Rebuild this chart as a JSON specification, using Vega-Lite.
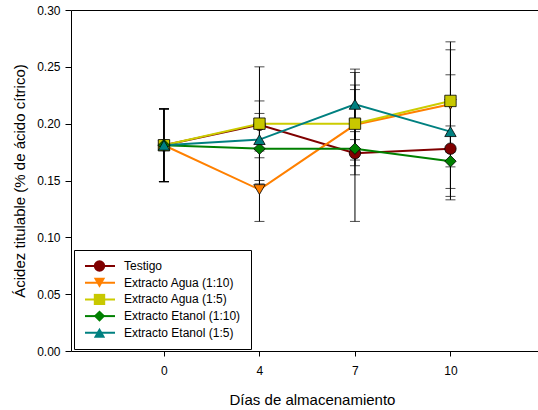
{
  "$schema": "https://vega.github.io/schema/vega-lite/v6.json",
  "width": 467,
  "height": 341,
  "autosize": {"type": "none"},
  "padding": {"left": 71, "top": 10, "right": 0, "bottom": 59},
  "background": "white",
  "config": {
    "font": "Liberation Sans",
    "view": {"stroke": null},
    "axis": {
      "labelFontSize": 12, "titleFontSize": 15, "titleFontWeight": "normal",
      "labelColor": "black", "titleColor": "black", "domainColor": "black",
      "tickColor": "black", "grid": false, "labelFont": "Liberation Sans", "titleFont": "Liberation Sans"
    },
    "legend": {"labelFont": "Liberation Sans", "labelColor": "black"}
  },
  "data": {
    "values": [
      {"dia": 0, "serie": "Testigo", "media": 0.181, "de": 0.032},
      {"dia": 4, "serie": "Testigo", "media": 0.199, "de": 0.021},
      {"dia": 7, "serie": "Testigo", "media": 0.174, "de": 0.060},
      {"dia": 10, "serie": "Testigo", "media": 0.178, "de": 0.045},
      {"dia": 0, "serie": "Extracto Agua (1:10)", "media": 0.181, "de": 0.032},
      {"dia": 4, "serie": "Extracto Agua (1:10)", "media": 0.142, "de": 0.028},
      {"dia": 7, "serie": "Extracto Agua (1:10)", "media": 0.199, "de": 0.031},
      {"dia": 10, "serie": "Extracto Agua (1:10)", "media": 0.217, "de": 0.055},
      {"dia": 0, "serie": "Extracto Agua (1:5)", "media": 0.181, "de": 0.032},
      {"dia": 4, "serie": "Extracto Agua (1:5)", "media": 0.200, "de": 0.050},
      {"dia": 7, "serie": "Extracto Agua (1:5)", "media": 0.200, "de": 0.045},
      {"dia": 10, "serie": "Extracto Agua (1:5)", "media": 0.220, "de": 0.045},
      {"dia": 0, "serie": "Extracto Etanol (1:10)", "media": 0.181, "de": 0.032},
      {"dia": 4, "serie": "Extracto Etanol (1:10)", "media": 0.178, "de": 0.031},
      {"dia": 7, "serie": "Extracto Etanol (1:10)", "media": 0.178, "de": 0.015},
      {"dia": 10, "serie": "Extracto Etanol (1:10)", "media": 0.167, "de": 0.031},
      {"dia": 0, "serie": "Extracto Etanol (1:5)", "media": 0.181, "de": 0.032},
      {"dia": 4, "serie": "Extracto Etanol (1:5)", "media": 0.186, "de": 0.010},
      {"dia": 7, "serie": "Extracto Etanol (1:5)", "media": 0.217, "de": 0.031},
      {"dia": 10, "serie": "Extracto Etanol (1:5)", "media": 0.193, "de": 0.050}
    ]
  },
  "layer": [
    {
      "mark": {"type": "line", "strokeWidth": 2},
      "encoding": {
        "x": {
          "field": "dia", "type": "ordinal",
          "scale": {"type": "point", "domain": [0, 4, 7, 10], "padding": 0.945, "align": 0.515},
          "axis": {"orient": "bottom", "title": "Días de almacenamiento", "labelAngle": 0, "tickSize": 5, "labelPadding": 9, "titlePadding": 16, "titleX": 241, "domainColor": "black"}
        },
        "y": {
          "field": "media", "type": "quantitative",
          "title": "Ácidez titulable (% de ácido cítrico)",
          "scale": {"domain": [0, 0.3], "nice": false, "zero": true},
          "axis": {"orient": "left", "title": "Ácidez titulable (% de ácido cítrico)", "values": [0, 0.05, 0.1, 0.15, 0.2, 0.25, 0.3], "format": ".2f", "tickSize": 6, "labelPadding": 5, "titlePadding": 9}
        },
        "stroke": {
          "field": "serie", "type": "nominal",
          "sort": null,
          "scale": {"range": ["#800000", "#FF8000", "#CCCC00", "#008000", "#008080"]},
          "legend": {
            "orient": "none", "legendX": 3, "legendY": 240, "title": null,
            "symbolType": "stroke", "symbolSize": 900, "symbolStrokeWidth": 2,
            "clipHeight": 12, "rowPadding": 4.7, "padding": 10,
            "labelFontSize": 12, "labelOffset": 8, "labelLimit": 300,
            "strokeColor": "black", "fillColor": "white", "zindex": 1
          }
        }
      }
    },
    {
      "mark": {"type": "errorbar", "ticks": {"size": 10, "thickness": 1, "color": "black"}, "rule": {"color": "black", "strokeWidth": 1}},
      "encoding": {
        "x": {"field": "dia", "type": "ordinal", "axis": null},
        "y": {"field": "media", "type": "quantitative", "title": "Ácidez titulable (% de ácido cítrico)"},
        "yError": {"field": "de"}
      }
    },
    {
      "mark": {"type": "point", "filled": true, "opacity": 1, "stroke": "black", "strokeWidth": 0.8, "size": 130},
      "encoding": {
        "x": {"field": "dia", "type": "ordinal", "axis": {"orient": "top", "labels": false, "ticks": false, "title": null, "domainColor": "black"}},
        "y": {"field": "media", "type": "quantitative", "title": "Ácidez titulable (% de ácido cítrico)"},
        "fill": {
          "field": "serie", "type": "nominal",
          "scale": {
            "domain": ["Testigo", "Extracto Agua (1:10)", "Extracto Agua (1:5)", "Extracto Etanol (1:10)", "Extracto Etanol (1:5)"],
            "range": ["#800000", "#FF8000", "#C8C800", "#008000", "#008080"]
          },
          "legend": {
            "orient": "none", "legendX": 12, "legendY": 240, "title": null,
            "symbolSize": 130, "symbolStrokeColor": "black", "symbolStrokeWidth": 0.8, "symbolOpacity": 1,
            "clipHeight": 12, "rowPadding": 4.7, "padding": 10,
            "labelFontSize": 12, "labelOffset": 8, "labelExpr": "''", "zindex": 2
          }
        },
        "shape": {
          "field": "serie", "type": "nominal",
          "scale": {
            "domain": ["Testigo", "Extracto Agua (1:10)", "Extracto Agua (1:5)", "Extracto Etanol (1:10)", "Extracto Etanol (1:5)"],
            "range": ["circle", "triangle-down", "square", "diamond", "triangle-up"]
          },
          "legend": {
            "orient": "none", "legendX": 12, "legendY": 240, "title": null,
            "symbolSize": 130, "symbolStrokeColor": "black", "symbolStrokeWidth": 0.8, "symbolOpacity": 1,
            "clipHeight": 12, "rowPadding": 4.7, "padding": 10,
            "labelFontSize": 12, "labelOffset": 8, "labelExpr": "''", "zindex": 2
          }
        }
      }
    }
  ]
}
